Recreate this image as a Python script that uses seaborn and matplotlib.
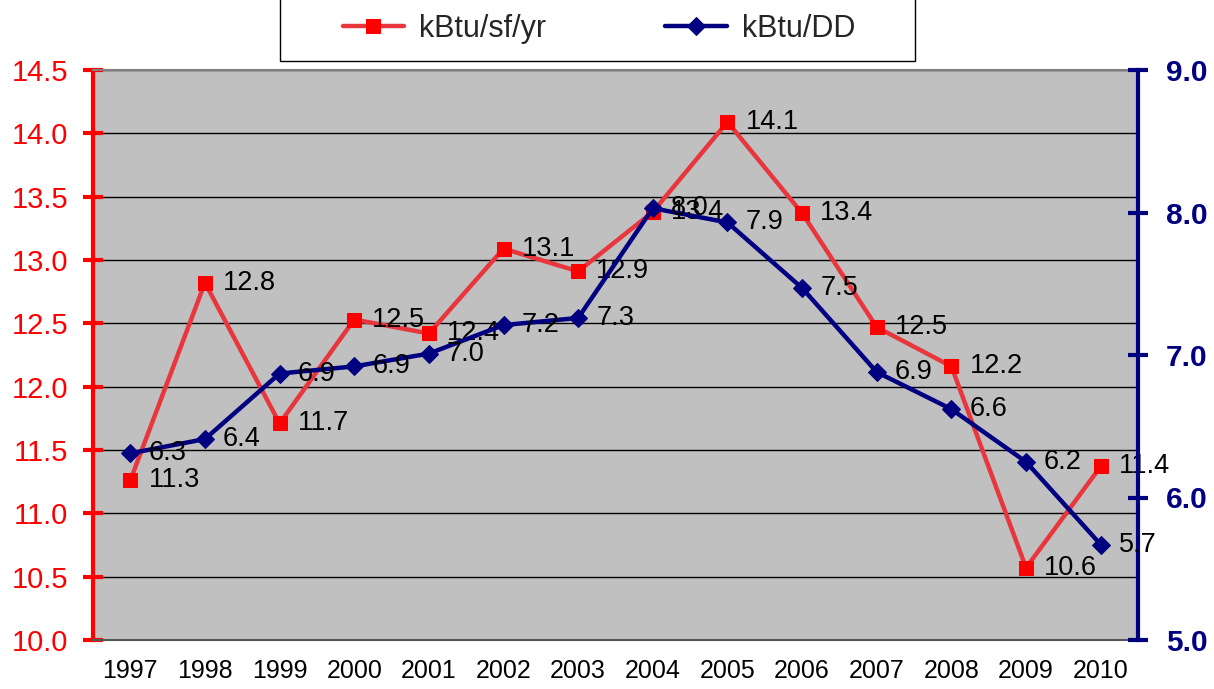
import pandas as pd
import matplotlib.pyplot as plt
import seaborn as sns
from matplotlib.patches import Rectangle

years = [1997, 1998, 1999, 2000, 2001, 2002, 2003, 2004, 2005, 2006, 2007, 2008, 2009, 2010]
kbtu_sf_yr = [11.26, 12.82, 11.71, 12.53, 12.42, 13.09, 12.91, 13.38, 14.09, 13.37, 12.47, 12.16, 10.57, 11.37]
kbtu_dd = [6.31, 6.41, 6.87, 6.92, 7.01, 7.21, 7.26, 8.03, 7.93, 7.47, 6.88, 6.62, 6.25, 5.67]

df = pd.DataFrame({"year": years, "sf": kbtu_sf_yr, "dd": kbtu_dd})

sns.set_style("white")
plt.rcParams["font.family"] = ["Liberation Sans", "DejaVu Sans"]

RED = "#FF0000"
RED_LINE = "#E8363C"
NAVY = "#000080"

W, H = 1214, 689
fig = plt.figure(figsize=(W / 100, H / 100), dpi=100)
ax = fig.add_axes([93 / W, 49 / H, 1045 / W, 570 / H])
ax.set_facecolor("#C0C0C0")

sns.lineplot(data=df, x="year", y="sf", ax=ax, color=RED_LINE, linewidth=3.2,
             marker="s", markersize=10, markerfacecolor=RED, markeredgecolor=RED,
             label="kBtu/sf/yr", legend=False)

ax2 = ax.twinx()
sns.lineplot(data=df, x="year", y="dd", ax=ax2, color=NAVY, linewidth=3.2,
             marker="D", markersize=9.5, markerfacecolor=NAVY, markeredgecolor=NAVY,
             label="kBtu/DD", legend=False)

# data labels, right of each point
for x, v in zip(years, kbtu_sf_yr):
    ax.annotate(f"{v:.1f}", (x, v), xytext=(13, 0), textcoords="offset points",
                ha="left", va="center", fontsize=19.5, color="black")
for x, v in zip(years, kbtu_dd):
    ax2.annotate(f"{v:.1f}", (x, v), xytext=(13, 0), textcoords="offset points",
                 ha="left", va="center", fontsize=19.5, color="black")

# left axis
ax.set_xlim(1996.5, 2010.5)
ax.set_ylim(10.0, 14.5)
left_ticks = [10.0, 10.5, 11.0, 11.5, 12.0, 12.5, 13.0, 13.5, 14.0, 14.5]
ax.set_yticks(left_ticks)
ax.set_yticklabels([f"{t:.1f}" for t in left_ticks])
ax.tick_params(axis="y", colors=RED, labelsize=21, direction="inout", length=14, width=3, pad=11)
ax.grid(axis="y", color="black", linewidth=1)
ax.set_axisbelow(True)

# right axis
ax2.set_ylim(5.0, 9.0)
right_ticks = [5.0, 6.0, 7.0, 8.0, 9.0]
ax2.set_yticks(right_ticks)
ax2.set_yticklabels([f"{t:.1f}" for t in right_ticks], fontweight="bold")
ax2.tick_params(axis="y", colors=NAVY, labelsize=21.5, direction="inout", length=14, width=3, pad=13)

# x axis: labels at years, tick marks between categories
ax.set_xticks(years)
ax.set_xticklabels([str(y) for y in years])
ax.set_xticks([y - 0.5 for y in years] + [2010.5], minor=True)
ax.tick_params(axis="x", which="major", length=0, labelsize=18, pad=14, colors="black")
ax.tick_params(axis="x", which="minor", length=8, width=1, color="#555555", direction="out")
ax.set_xlabel("")
ax.set_ylabel("")
ax2.set_ylabel("")

for a in (ax, ax2):
    for s in a.spines.values():
        s.set_visible(False)
ax.spines["left"].set_visible(True)
ax.spines["left"].set_color(RED)
ax.spines["left"].set_linewidth(3)
ax.spines["bottom"].set_visible(True)
ax.spines["bottom"].set_color("#555555")
ax.spines["bottom"].set_linewidth(1.5)
ax.spines["top"].set_visible(True)
ax.spines["top"].set_color("#808080")
ax.spines["top"].set_linewidth(1.5)
ax2.spines["right"].set_visible(True)
ax2.spines["right"].set_color(NAVY)
ax2.spines["right"].set_linewidth(3)

# legend box (top runs off the figure, as in the original)
fig.patches.append(Rectangle((280 / W, 1 - 61 / H), 635 / W, 80 / H,
                             transform=fig.transFigure, facecolor="white",
                             edgecolor="black", linewidth=1, zorder=0))
h1, l1 = ax.get_legend_handles_labels()
h2, l2 = ax2.get_legend_handles_labels()
leg = fig.legend(h1 + h2, l1 + l2, loc="center", bbox_to_anchor=(599 / W, 1 - 29 / H),
                 ncol=2, fontsize=22, frameon=False,
                 handlelength=2.0, columnspacing=3.9, handletextpad=0.5)

fig.savefig("out.png", dpi=100)
